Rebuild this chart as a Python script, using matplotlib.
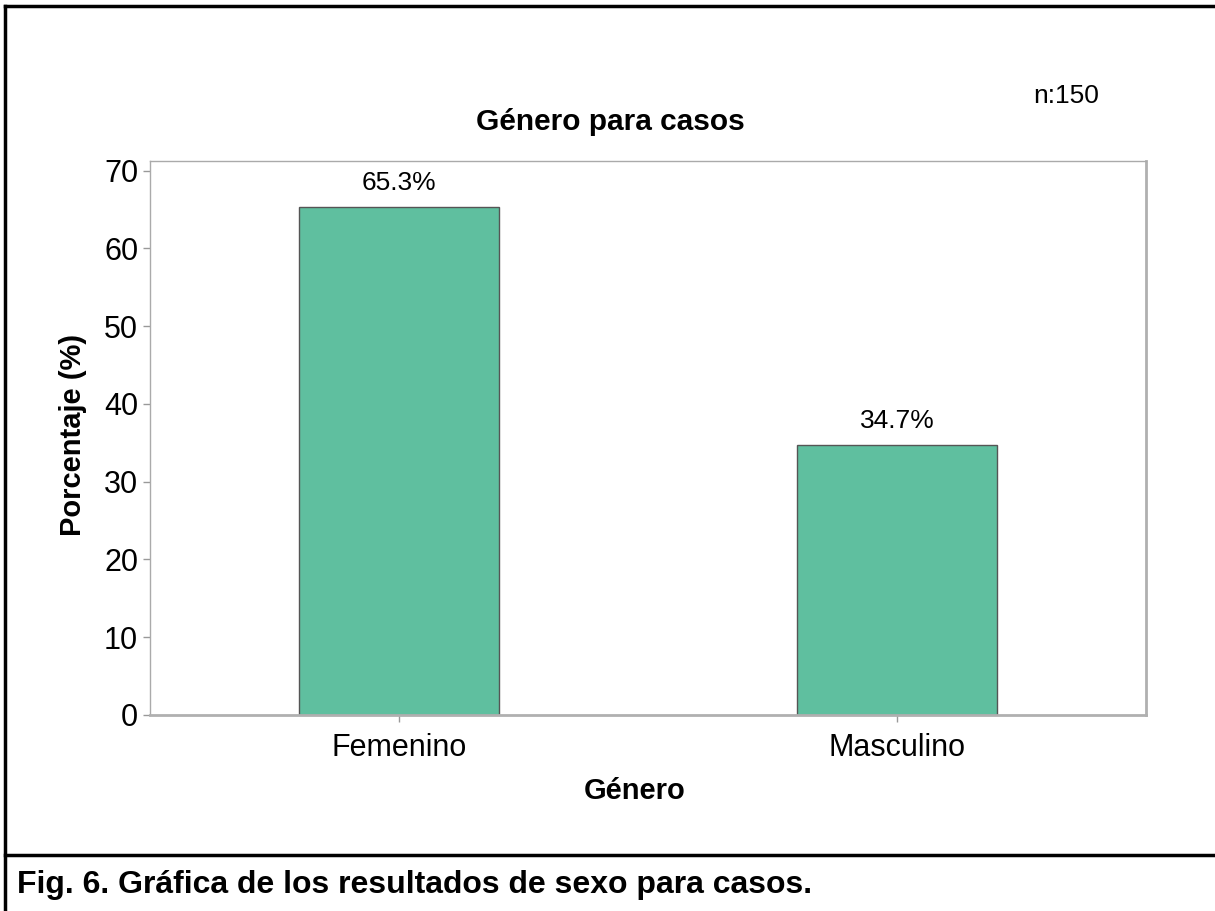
import matplotlib.pyplot as plt
from matplotlib.lines import Line2D

# --- DATOS ---
categorias = ["Femenino", "Masculino"]
porcentajes = [65.3, 34.7]
etiquetas = ["65.3%", "34.7%"]
yticks = [0, 10, 20, 30, 40, 50, 60, 70]

plt.rcParams['font.family'] = ['Liberation Sans', 'DejaVu Sans']

W, H = 1215, 911
fig = plt.figure(figsize=(W / 100, H / 100), dpi=100)

# ejes en pixeles: izquierda 150, derecha 1146, arriba 161, abajo 715
ax = fig.add_axes([150 / W, 1 - 715 / H, 996 / W, 554 / H])

x = range(len(categorias))
ax.bar(x, porcentajes, width=0.4, color='#5fbf9f', edgecolor='#555555', linewidth=1)
for xi, v, t in zip(x, porcentajes, etiquetas):
    ax.text(xi, v + 1.6, t, ha='center', va='bottom', fontsize=19)

ax.set_xlim(-0.5, 1.5)
ax.set_ylim(0, 71.25)
ax.set_yticks(yticks)
ax.set_xticks(list(x))
ax.set_xticklabels(categorias)
ax.tick_params(axis='both', labelsize=22, colors='#999999', labelcolor='black',
               length=5, width=1, direction='out')
ax.tick_params(axis='x', pad=8)

for s in ['left', 'top']:
    ax.spines[s].set_color('#aaaaaa')
    ax.spines[s].set_linewidth(1)
for s in ['right', 'bottom']:
    ax.spines[s].set_color('#b0b0b0')
    ax.spines[s].set_linewidth(2)

ax.set_ylabel('Porcentaje (%)', fontsize=21, fontweight='bold')
ax.yaxis.set_label_coords(-63 / 996, 0.505)
ax.set_xlabel('Género', fontsize=21, fontweight='bold')
ax.xaxis.set_label_coords((635 - 150) / 996, -62 / 554)

fig.text(610 / W, 1 - 122 / H, 'Género para casos', ha='center', va='center',
         fontsize=21.5, fontweight='bold')
fig.text(1066 / W, 1 - 96 / H, 'n:150', ha='center', va='center', fontsize=19)

# marco exterior y pie de figura
def linea(x0, y0, x1, y1, lw=2.5):
    fig.add_artist(Line2D([x0 / W, x1 / W], [1 - y0 / H, 1 - y1 / H],
                          color='black', linewidth=lw))

linea(5, 6, W, 6)
linea(5, 6, 5, H)
linea(5, 855, W, 855)

fig.text(17 / W, 1 - 885 / H, 'Fig. 6. Gráfica de los resultados de sexo para casos.',
         ha='left', va='center', fontsize=23, fontweight='bold')

plt.savefig('out.png', dpi=100)
